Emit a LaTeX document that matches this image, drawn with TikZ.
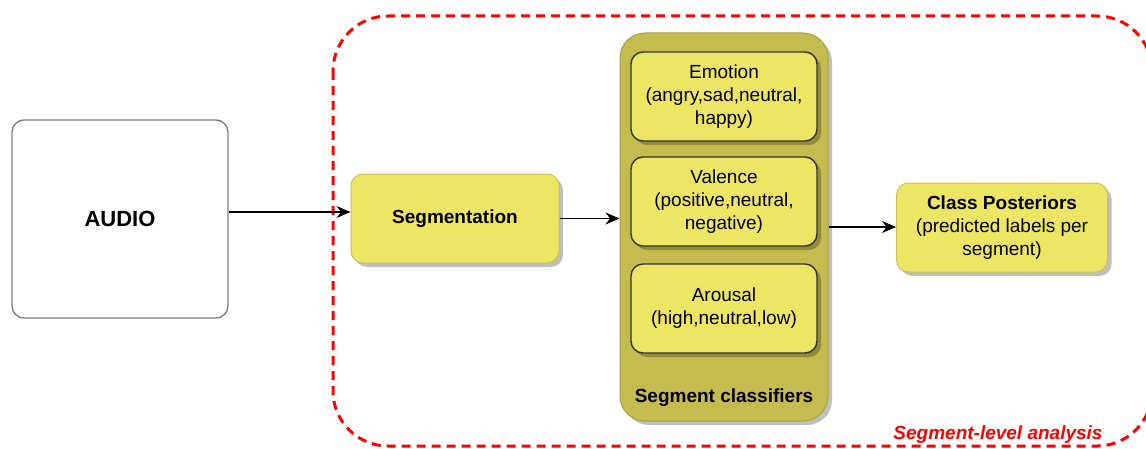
\documentclass[tikz,border=0pt]{standalone}
\usepackage{fontspec}
\setmainfont{Liberation Sans}
\usepackage{tikz}
\usetikzlibrary{arrows.meta,positioning,shadows}
\definecolor{boxyellow}{RGB}{237,229,100}
\definecolor{groupolive}{RGB}{196,188,78}
\definecolor{audiogray}{RGB}{128,128,128}

\begin{document}
\begin{tikzpicture}[x=0.5pt,y=-0.5pt,
  txt/.style={font=\fontsize{9.5}{11.5}\selectfont,align=center},
  shade box/.style={drop shadow={shadow xshift=2pt,shadow yshift=-2pt,fill=black,opacity=0.25}},
  yellowbox/.style={txt,shade box,rectangle,rounded corners=6pt,fill=boxyellow,
    draw=boxyellow!85!black,line width=0.5pt,inner sep=0pt},
  classbox/.style={yellowbox,draw=black!80,line width=0.7pt,
    minimum width=93pt,minimum height=44.5pt},
  flow/.style={-{Stealth[length=7pt,width=6pt]},line width=0.7pt,black}]
\useasboundingbox (0,0) rectangle (1146,449);
% Region of the segment-level analysis
\draw[red,dashed,line width=1.5pt,dash pattern=on 4.5pt off 3pt,rounded corners=27.5pt]
  (333,16) rectangle (1152,446);
\node[txt,red,font=\fontsize{9.5}{11.5}\selectfont\bfseries\itshape] (region) at (998,435) {Segment-level analysis};
% Input and segmentation
\node[txt,font=\fontsize{11}{13}\selectfont\bfseries,rectangle,rounded corners=6pt,draw=audiogray,
  line width=0.7pt,fill=white,minimum width=108pt,minimum height=99pt] (audio) at (120,219) {AUDIO};
\node[yellowbox,minimum width=104pt,minimum height=44.5pt] (seg) at (455,218.5) {\bfseries Segmentation};
% Group of segment classifiers
\node[rectangle,rounded corners=12.5pt,fill=groupolive,draw=groupolive!85!black,line width=0.5pt,
  shade box,minimum width=104pt,minimum height=194pt,inner sep=0pt] (group) at (724,227) {};
\node[classbox] (emotion) at (724,96.5) {Emotion\\(angry,sad,neutral,\\happy)};
\node[classbox] (valence) at (724,201.5) {Valence\\(positive,neutral,\\negative)};
\node[classbox] (arousal) at (724,308.5) {Arousal\\(high,neutral,low)};
\node[txt,font=\fontsize{9.5}{11.5}\selectfont\bfseries] (grouplabel) at (724,398) {Segment classifiers};
% Output
\node[yellowbox,minimum width=105.5pt,minimum height=44.5pt] (post) at (1002,227.5)
  {\textbf{Class Posteriors}\\(predicted labels per\\segment)};
% Connectors
\draw[flow] ([yshift=3.5pt]audio.east) -- ([yshift=3.5pt]audio.east -| seg.west);
\draw[flow] (seg.east) -- (seg.east -| group.west);
\draw[flow] (group.east) -- (group.east -| post.west);
\end{tikzpicture}
\end{document}
